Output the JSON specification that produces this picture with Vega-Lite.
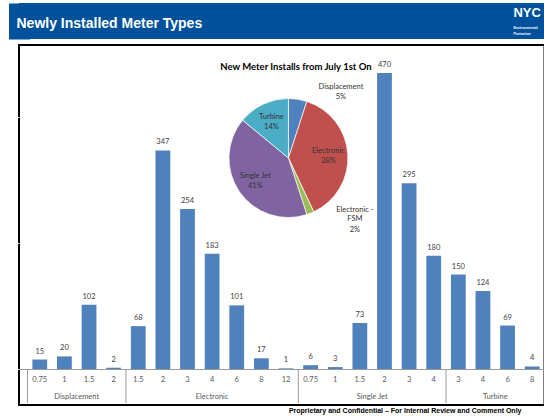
{
  "$schema": "https://vega.github.io/schema/vega-lite/v6.json",
  "padding": {"left": 7, "top": 3, "right": 0, "bottom": 0},
  "background": "#ffffff",
  "spacing": 5,
  "config": {"view": {"stroke": null}, "font": "Lato"},
  "datasets": {
    "bars": [
      {"group": "Displacement", "size": "0.75", "key": "Displacement|0.75", "count": 15},
      {"group": "Displacement", "size": "1", "key": "Displacement|1", "count": 20},
      {"group": "Displacement", "size": "1.5", "key": "Displacement|1.5", "count": 102},
      {"group": "Displacement", "size": "2", "key": "Displacement|2", "count": 2},
      {"group": "Electronic", "size": "1.5", "key": "Electronic|1.5", "count": 68},
      {"group": "Electronic", "size": "2", "key": "Electronic|2", "count": 347},
      {"group": "Electronic", "size": "3", "key": "Electronic|3", "count": 254},
      {"group": "Electronic", "size": "4", "key": "Electronic|4", "count": 183},
      {"group": "Electronic", "size": "6", "key": "Electronic|6", "count": 101},
      {"group": "Electronic", "size": "8", "key": "Electronic|8", "count": 17},
      {"group": "Electronic", "size": "12", "key": "Electronic|12", "count": 1},
      {"group": "Single Jet", "size": "0.75", "key": "Single Jet|0.75", "count": 6},
      {"group": "Single Jet", "size": "1", "key": "Single Jet|1", "count": 3},
      {"group": "Single Jet", "size": "1.5", "key": "Single Jet|1.5", "count": 73},
      {"group": "Single Jet", "size": "2", "key": "Single Jet|2", "count": 470},
      {"group": "Single Jet", "size": "3", "key": "Single Jet|3", "count": 295},
      {"group": "Single Jet", "size": "4", "key": "Single Jet|4", "count": 180},
      {"group": "Turbine", "size": "3", "key": "Turbine|3", "count": 150},
      {"group": "Turbine", "size": "4", "key": "Turbine|4", "count": 124},
      {"group": "Turbine", "size": "6", "key": "Turbine|6", "count": 69},
      {"group": "Turbine", "size": "8", "key": "Turbine|8", "count": 4}
    ],
    "groups": [
      {"group": "Displacement", "first": "Displacement|0.75", "center": "Displacement|1.5"},
      {"group": "Electronic", "first": "Electronic|1.5", "center": "Electronic|4"},
      {"group": "Single Jet", "first": "Single Jet|0.75", "center": "Single Jet|2"},
      {"group": "Turbine", "first": "Turbine|3", "center": "Turbine|6"}
    ],
    "pie": [
      {"type": "Displacement", "label": "Displacement", "share": 0.05},
      {"type": "Electronic", "label": "Electronic", "share": 0.38},
      {"type": "Electronic - FSM", "label": "Electronic -\nFSM", "share": 0.02},
      {"type": "Single Jet", "label": "Single Jet", "share": 0.41},
      {"type": "Turbine", "label": "Turbine", "share": 0.14}
    ]
  },
  "vconcat": [
    {
      "width": 526.5,
      "height": 36,
      "view": {"fill": "#00519C", "stroke": null},
      "layer": [
        {
          "data": {"values": [{"t": "Newly Installed Meter Types"}]},
          "mark": {"type": "text", "align": "left", "baseline": "middle", "dx": -2.5, "font": "Liberation Sans", "fontWeight": "bold", "fontSize": 14, "color": "#ffffff"},
          "encoding": {
            "text": {"field": "t"},
            "x": {"datum": 0, "type": "quantitative", "scale": {"domain": [0, 100]}, "axis": null},
            "y": {"datum": 0.42, "type": "quantitative", "scale": {"domain": [0, 1]},
              "axis": {"domain": true, "domainColor": "#00519C", "domainWidth": 21, "domainCap": "butt", "ticks": false, "labels": false, "grid": false, "title": null, "offset": 0}}
          }
        },
        {
          "data": {"values": [{"t": "NYC"}]},
          "mark": {"type": "text", "align": "left", "baseline": "middle", "font": "Liberation Sans", "fontWeight": "bold", "fontSize": 13, "color": "#ffffff"},
          "encoding": {
            "text": {"field": "t"},
            "x": {"datum": 93.9, "type": "quantitative", "scale": {"domain": [0, 100]}, "axis": null},
            "y": {"datum": 0.72, "type": "quantitative", "scale": {"domain": [0, 1]}}
          }
        },
        {
          "data": {"values": [{"t": "Environmental\nProtection"}]},
          "mark": {"type": "text", "align": "left", "baseline": "middle", "font": "Liberation Sans", "fontWeight": "bold", "fontSize": 3.5, "lineBreak": "\n", "color": "#ffffff"},
          "encoding": {
            "text": {"field": "t"},
            "x": {"datum": 93.9, "type": "quantitative", "scale": {"domain": [0, 100]}, "axis": null},
            "y": {"datum": 0.3, "type": "quantitative", "scale": {"domain": [0, 1]}}
          }
        }
      ]
    },
    {
      "width": 525.5,
      "height": 360,
      "view": {"stroke": "#000000", "strokeWidth": 2},
      "title": {"text": "Proprietary and Confidential –  For Internal Review and Comment Only", "orient": "bottom", "anchor": "end", "frame": "group", "font": "Liberation Sans", "fontSize": 7, "fontWeight": "bold", "color": "#000000", "offset": 2, "dx": -23},
      "layer": [
        {
          "data": {"name": "bars"},
          "mark": {"type": "bar", "color": "#4F81BD", "width": {"band": 0.6}},
          "encoding": {
            "x": {"field": "key", "type": "nominal", "sort": null, "title": null,
              "scale": {"domain": ["Displacement|0.75","Displacement|1","Displacement|1.5","Displacement|2","Electronic|1.5","Electronic|2","Electronic|3","Electronic|4","Electronic|6","Electronic|8","Electronic|12","Single Jet|0.75","Single Jet|1","Single Jet|1.5","Single Jet|2","Single Jet|3","Single Jet|4","Turbine|3","Turbine|4","Turbine|6","Turbine|8"], "paddingInner": 0, "paddingOuter": 0.172, "align": 1},
              "axis": {"labelExpr": "split(datum.label, '|')[1]", "labelAngle": 0, "ticks": false, "domainColor": "#9a9a9a", "domainWidth": 1, "labelColor": "#595959", "labelFontSize": 7.5, "labelFont": "Lato", "labelPadding": 6, "offset": -36, "grid": false, "labelOverlap": false}},
            "y": {"field": "count", "type": "quantitative", "title": null,
              "scale": {"domain": [-57.2, 514.5], "nice": false},
              "axis": {"domain": false, "labels": false, "grid": false, "ticks": true, "tickSize": 10, "tickColor": "#ffffff", "tickCount": 2}}
          }
        },
        {
          "data": {"name": "bars"},
          "mark": {"type": "text", "baseline": "bottom", "dy": -4, "fontSize": 7.5, "font": "Lato", "color": "#404040"},
          "encoding": {
            "x": {"field": "key", "type": "nominal", "sort": null, "title": null,
              "scale": {"domain": ["Displacement|0.75","Displacement|1","Displacement|1.5","Displacement|2","Electronic|1.5","Electronic|2","Electronic|3","Electronic|4","Electronic|6","Electronic|8","Electronic|12","Single Jet|0.75","Single Jet|1","Single Jet|1.5","Single Jet|2","Single Jet|3","Single Jet|4","Turbine|3","Turbine|4","Turbine|6","Turbine|8"], "paddingInner": 0, "paddingOuter": 0.172, "align": 1}},
            "y": {"field": "count", "type": "quantitative", "title": null, "scale": {"domain": [-57.2, 514.5], "nice": false}},
            "text": {"field": "count", "type": "quantitative"}
          }
        },
        {
          "data": {"name": "groups"},
          "mark": {"type": "rule", "color": "#9a9a9a", "strokeWidth": 1},
          "encoding": {
            "x": {"field": "first", "type": "nominal", "sort": null, "title": null, "bandPosition": 0,
              "scale": {"domain": ["Displacement|0.75","Displacement|1","Displacement|1.5","Displacement|2","Electronic|1.5","Electronic|2","Electronic|3","Electronic|4","Electronic|6","Electronic|8","Electronic|12","Single Jet|0.75","Single Jet|1","Single Jet|1.5","Single Jet|2","Single Jet|3","Single Jet|4","Turbine|3","Turbine|4","Turbine|6","Turbine|8"], "paddingInner": 0, "paddingOuter": 0.172, "align": 1}},
            "y": {"datum": 0, "type": "quantitative", "title": null, "scale": {"domain": [-57.2, 514.5], "nice": false}},
            "y2": {"datum": -54}
          }
        },
        {
          "data": {"name": "groups"},
          "transform": [{"filter": "datum.group !== 'Electronic'"}],
          "mark": {"type": "text", "baseline": "middle", "fontSize": 7.5, "font": "Lato", "color": "#595959"},
          "encoding": {
            "x": {"field": "center", "type": "nominal", "sort": null, "title": null, "bandPosition": 0,
              "scale": {"domain": ["Displacement|0.75","Displacement|1","Displacement|1.5","Displacement|2","Electronic|1.5","Electronic|2","Electronic|3","Electronic|4","Electronic|6","Electronic|8","Electronic|12","Single Jet|0.75","Single Jet|1","Single Jet|1.5","Single Jet|2","Single Jet|3","Single Jet|4","Turbine|3","Turbine|4","Turbine|6","Turbine|8"], "paddingInner": 0, "paddingOuter": 0.172, "align": 1}},
            "y": {"datum": -45, "type": "quantitative", "title": null, "scale": {"domain": [-57.2, 514.5], "nice": false}},
            "text": {"field": "group"}
          }
        },
        {
          "data": {"name": "groups"},
          "transform": [{"filter": "datum.group === 'Electronic'"}],
          "mark": {"type": "text", "baseline": "middle", "fontSize": 7.5, "font": "Lato", "color": "#595959"},
          "encoding": {
            "x": {"field": "center", "type": "nominal", "sort": null, "title": null, "bandPosition": 0.5,
              "scale": {"domain": ["Displacement|0.75","Displacement|1","Displacement|1.5","Displacement|2","Electronic|1.5","Electronic|2","Electronic|3","Electronic|4","Electronic|6","Electronic|8","Electronic|12","Single Jet|0.75","Single Jet|1","Single Jet|1.5","Single Jet|2","Single Jet|3","Single Jet|4","Turbine|3","Turbine|4","Turbine|6","Turbine|8"], "paddingInner": 0, "paddingOuter": 0.172, "align": 1}},
            "y": {"datum": -45, "type": "quantitative", "title": null, "scale": {"domain": [-57.2, 514.5], "nice": false}},
            "text": {"field": "group"}
          }
        },
        {
          "data": {"name": "pie"},
          "mark": {"type": "arc", "outerRadius": 59.5, "stroke": "#ffffff", "strokeWidth": 0.7},
          "encoding": {
            "theta": {"field": "share", "type": "quantitative", "stack": true},
            "order": {"field": "type", "type": "nominal", "sort": "ascending"},
            "color": {"field": "type", "type": "nominal", "legend": null,
              "scale": {"domain": ["Displacement", "Electronic", "Electronic - FSM", "Single Jet", "Turbine"], "range": ["#4F81BD", "#C0504D", "#9BBB59", "#8064A2", "#4BACC6"]}},
            "x": {"datum": "Electronic|12", "type": "nominal", "title": null, "bandPosition": 0.6,
              "scale": {"domain": ["Displacement|0.75","Displacement|1","Displacement|1.5","Displacement|2","Electronic|1.5","Electronic|2","Electronic|3","Electronic|4","Electronic|6","Electronic|8","Electronic|12","Single Jet|0.75","Single Jet|1","Single Jet|1.5","Single Jet|2","Single Jet|3","Single Jet|4","Turbine|3","Turbine|4","Turbine|6","Turbine|8"], "paddingInner": 0, "paddingOuter": 0.172, "align": 1}},
            "y": {"datum": 335, "type": "quantitative", "title": null, "scale": {"domain": [-57.2, 514.5], "nice": false}}
          }
        },
        {
          "data": {"name": "pie"},
          "mark": {"type": "text", "radius": 40, "baseline": "bottom", "dy": -0.5, "fontSize": 7.5, "font": "Lato", "color": "#333333"},
          "encoding": {
            "theta": {"field": "share", "type": "quantitative", "stack": true},
            "order": {"field": "type", "type": "nominal", "sort": "ascending"},
            "text": {"condition": {"test": "datum.type === 'Electronic' || datum.type === 'Single Jet' || datum.type === 'Turbine'", "field": "label"}, "value": ""},
            "x": {"datum": "Electronic|12", "type": "nominal", "title": null, "bandPosition": 0.6,
              "scale": {"domain": ["Displacement|0.75","Displacement|1","Displacement|1.5","Displacement|2","Electronic|1.5","Electronic|2","Electronic|3","Electronic|4","Electronic|6","Electronic|8","Electronic|12","Single Jet|0.75","Single Jet|1","Single Jet|1.5","Single Jet|2","Single Jet|3","Single Jet|4","Turbine|3","Turbine|4","Turbine|6","Turbine|8"], "paddingInner": 0, "paddingOuter": 0.172, "align": 1}},
            "y": {"datum": 335, "type": "quantitative", "title": null, "scale": {"domain": [-57.2, 514.5], "nice": false}}
          }
        },
        {
          "data": {"name": "pie"},
          "mark": {"type": "text", "radius": 40, "baseline": "top", "dy": 1, "fontSize": 7.5, "font": "Lato", "color": "#333333"},
          "encoding": {
            "theta": {"field": "share", "type": "quantitative", "stack": true},
            "order": {"field": "type", "type": "nominal", "sort": "ascending"},
            "text": {"condition": {"test": "datum.type === 'Electronic' || datum.type === 'Single Jet' || datum.type === 'Turbine'", "field": "share", "type": "quantitative", "format": ".0%"}, "value": ""},
            "x": {"datum": "Electronic|12", "type": "nominal", "title": null, "bandPosition": 0.6,
              "scale": {"domain": ["Displacement|0.75","Displacement|1","Displacement|1.5","Displacement|2","Electronic|1.5","Electronic|2","Electronic|3","Electronic|4","Electronic|6","Electronic|8","Electronic|12","Single Jet|0.75","Single Jet|1","Single Jet|1.5","Single Jet|2","Single Jet|3","Single Jet|4","Turbine|3","Turbine|4","Turbine|6","Turbine|8"], "paddingInner": 0, "paddingOuter": 0.172, "align": 1}},
            "y": {"datum": 335, "type": "quantitative", "title": null, "scale": {"domain": [-57.2, 514.5], "nice": false}}
          }
        },
        {
          "data": {"name": "pie"},
          "mark": {"type": "text", "radius": 67, "dx": 42, "baseline": "middle", "dy": -5, "fontSize": 7.5, "font": "Lato", "color": "#333333"},
          "encoding": {
            "theta": {"field": "share", "type": "quantitative", "stack": true},
            "order": {"field": "type", "type": "nominal", "sort": "ascending"},
            "text": {"condition": {"test": "datum.type === 'Displacement'", "field": "label"}, "value": ""},
            "x": {"datum": "Electronic|12", "type": "nominal", "title": null, "bandPosition": 0.6,
              "scale": {"domain": ["Displacement|0.75","Displacement|1","Displacement|1.5","Displacement|2","Electronic|1.5","Electronic|2","Electronic|3","Electronic|4","Electronic|6","Electronic|8","Electronic|12","Single Jet|0.75","Single Jet|1","Single Jet|1.5","Single Jet|2","Single Jet|3","Single Jet|4","Turbine|3","Turbine|4","Turbine|6","Turbine|8"], "paddingInner": 0, "paddingOuter": 0.172, "align": 1}},
            "y": {"datum": 335, "type": "quantitative", "title": null, "scale": {"domain": [-57.2, 514.5], "nice": false}}
          }
        },
        {
          "data": {"name": "pie"},
          "mark": {"type": "text", "radius": 67, "dx": 42, "baseline": "middle", "dy": 5, "fontSize": 7.5, "font": "Lato", "color": "#333333"},
          "encoding": {
            "theta": {"field": "share", "type": "quantitative", "stack": true},
            "order": {"field": "type", "type": "nominal", "sort": "ascending"},
            "text": {"condition": {"test": "datum.type === 'Displacement'", "field": "share", "type": "quantitative", "format": ".0%"}, "value": ""},
            "x": {"datum": "Electronic|12", "type": "nominal", "title": null, "bandPosition": 0.6,
              "scale": {"domain": ["Displacement|0.75","Displacement|1","Displacement|1.5","Displacement|2","Electronic|1.5","Electronic|2","Electronic|3","Electronic|4","Electronic|6","Electronic|8","Electronic|12","Single Jet|0.75","Single Jet|1","Single Jet|1.5","Single Jet|2","Single Jet|3","Single Jet|4","Turbine|3","Turbine|4","Turbine|6","Turbine|8"], "paddingInner": 0, "paddingOuter": 0.172, "align": 1}},
            "y": {"datum": 335, "type": "quantitative", "title": null, "scale": {"domain": [-57.2, 514.5], "nice": false}}
          }
        },
        {
          "data": {"name": "pie"},
          "mark": {"type": "text", "radius": 61, "dx": 44, "baseline": "middle", "dy": -5, "fontSize": 7.5, "font": "Lato", "color": "#333333", "lineBreak": "\n"},
          "encoding": {
            "theta": {"field": "share", "type": "quantitative", "stack": true},
            "order": {"field": "type", "type": "nominal", "sort": "ascending"},
            "text": {"condition": {"test": "datum.type === 'Electronic - FSM'", "field": "label"}, "value": ""},
            "x": {"datum": "Electronic|12", "type": "nominal", "title": null, "bandPosition": 0.6,
              "scale": {"domain": ["Displacement|0.75","Displacement|1","Displacement|1.5","Displacement|2","Electronic|1.5","Electronic|2","Electronic|3","Electronic|4","Electronic|6","Electronic|8","Electronic|12","Single Jet|0.75","Single Jet|1","Single Jet|1.5","Single Jet|2","Single Jet|3","Single Jet|4","Turbine|3","Turbine|4","Turbine|6","Turbine|8"], "paddingInner": 0, "paddingOuter": 0.172, "align": 1}},
            "y": {"datum": 335, "type": "quantitative", "title": null, "scale": {"domain": [-57.2, 514.5], "nice": false}}
          }
        },
        {
          "data": {"name": "pie"},
          "mark": {"type": "text", "radius": 61, "dx": 44, "baseline": "middle", "dy": 15, "fontSize": 7.5, "font": "Lato", "color": "#333333"},
          "encoding": {
            "theta": {"field": "share", "type": "quantitative", "stack": true},
            "order": {"field": "type", "type": "nominal", "sort": "ascending"},
            "text": {"condition": {"test": "datum.type === 'Electronic - FSM'", "field": "share", "type": "quantitative", "format": ".0%"}, "value": ""},
            "x": {"datum": "Electronic|12", "type": "nominal", "title": null, "bandPosition": 0.6,
              "scale": {"domain": ["Displacement|0.75","Displacement|1","Displacement|1.5","Displacement|2","Electronic|1.5","Electronic|2","Electronic|3","Electronic|4","Electronic|6","Electronic|8","Electronic|12","Single Jet|0.75","Single Jet|1","Single Jet|1.5","Single Jet|2","Single Jet|3","Single Jet|4","Turbine|3","Turbine|4","Turbine|6","Turbine|8"], "paddingInner": 0, "paddingOuter": 0.172, "align": 1}},
            "y": {"datum": 335, "type": "quantitative", "title": null, "scale": {"domain": [-57.2, 514.5], "nice": false}}
          }
        },
        {
          "data": {"values": [{"t": "New Meter Installs from July 1st On"}]},
          "mark": {"type": "text", "baseline": "middle", "dx": 10, "fontSize": 9.5, "fontWeight": "bold", "font": "Lato", "color": "#000000"},
          "encoding": {
            "text": {"field": "t"},
            "x": {"datum": "Electronic|12", "type": "nominal", "title": null, "bandPosition": 0.5,
              "scale": {"domain": ["Displacement|0.75","Displacement|1","Displacement|1.5","Displacement|2","Electronic|1.5","Electronic|2","Electronic|3","Electronic|4","Electronic|6","Electronic|8","Electronic|12","Single Jet|0.75","Single Jet|1","Single Jet|1.5","Single Jet|2","Single Jet|3","Single Jet|4","Turbine|3","Turbine|4","Turbine|6","Turbine|8"], "paddingInner": 0, "paddingOuter": 0.172, "align": 1}},
            "y": {"datum": 480, "type": "quantitative", "title": null, "scale": {"domain": [-57.2, 514.5], "nice": false}}
          }
        }
      ]
    }
  ]
}
